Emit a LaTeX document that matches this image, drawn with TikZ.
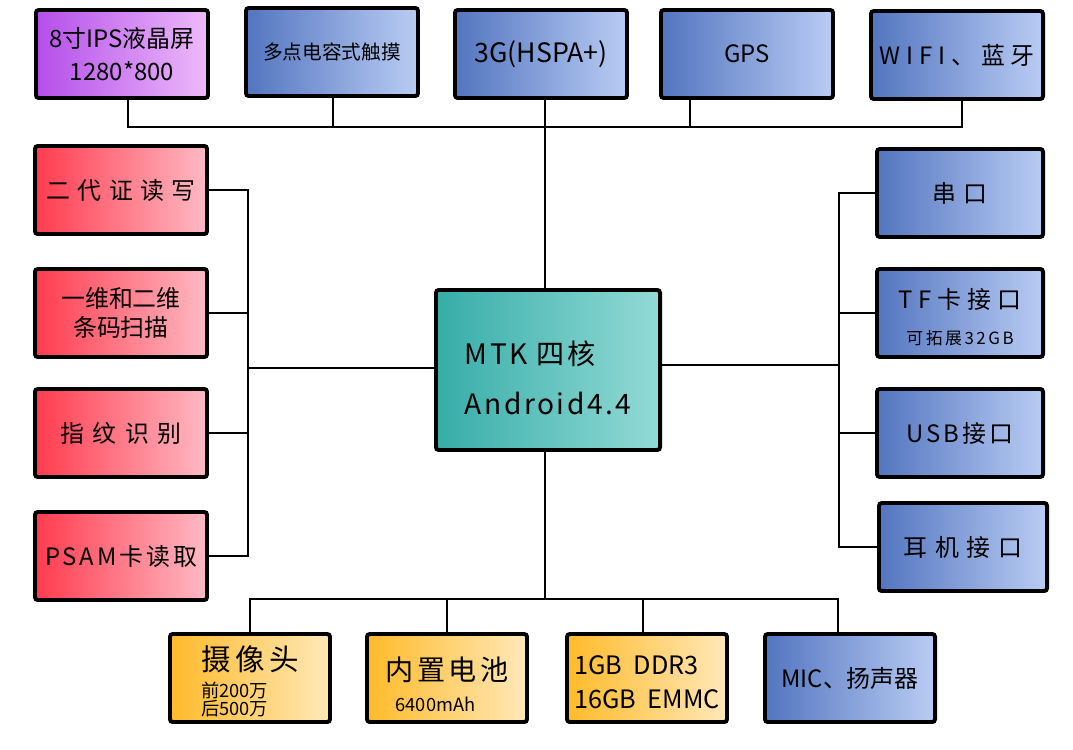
\documentclass[tikz,border=0pt]{standalone}
\usepackage{fontspec}
\setmainfont{Noto Sans CJK SC}
\usepackage{tikz}
\usetikzlibrary{positioning}

\definecolor{purpleA}{HTML}{B44EEA}
\definecolor{purpleB}{HTML}{EDBAFA}
\definecolor{blueA}{HTML}{5375C0}
\definecolor{blueB}{HTML}{B9CCF3}
\definecolor{redA}{HTML}{FF3B4E}
\definecolor{redB}{HTML}{FFBAC4}
\definecolor{orangeA}{HTML}{FFBA2A}
\definecolor{orangeB}{HTML}{FFE8B8}
\definecolor{tealA}{HTML}{36ADA8}
\definecolor{tealB}{HTML}{93DAD6}

\newcommand{\fsz}[2]{\fontsize{#1}{#2}\selectfont}
\newcommand{\track}[1]{\addfontfeatures{LetterSpace=#1}}

\begin{document}
\begin{tikzpicture}[
		x=0.025cm, y=-0.025cm,
		box/.style={draw, line width=2.8pt, rounded corners=2pt, minimum width=4.3cm, minimum height=2.2cm, align=center, inner sep=1pt, font={\fsz{17}{20}}},
		lcdbox/.style={box, left color=purpleA, right color=purpleB},
		bluebox/.style={box, left color=blueA, right color=blueB},
		redbox/.style={box, left color=redA, right color=redB},
		orangebox/.style={box, left color=orangeA, right color=orangeB, minimum width=4cm},
		cpubox/.style={box, left color=tealA, right color=tealB, minimum width=5.6cm, minimum height=4cm},
		wire/.style={line width=2pt}
	]
	\useasboundingbox (0,0) rectangle (1073,750);

	% Nodes
	\node[cpubox, align=left, font={\fsz{20}{36}\track{9}}] (cpu) at (548,370) {\rule{0pt}{28pt}MTK 四核\\Android4.4};

	\node[lcdbox, font={\fsz{17}{24}}] (lcd) at (122,54) {8寸IPS液晶屏\\1280*800};
	\node[bluebox, font={\fsz{14}{17}}] (touch) at (332,52) {多点电容式触摸};
	\node[bluebox, font={\fsz{19}{23}}] (hspa) at (541,54) {3G(HSPA+)};
	\node[bluebox] (gps) at (747,54) {GPS};
	\node[bluebox, font={\fsz{17}{20}\track{25}}] (wifi) at (957,55) {WIFI、蓝牙};

	\node[redbox, font={\fsz{17}{20}\track{30}}] (idcard) at (121,190) {二代证读写};
	\node[redbox, font={\fsz{17}{21}}] (barcode) at (121,313) {一维和二维\\条码扫描};
	\node[redbox, font={\fsz{17}{20}\track{35}}] (finger) at (121,433) {指纹识别};
	\node[redbox, font={\fsz{17}{20}\track{12}}] (psam) at (121,556) {PSAM卡读取};

	\node[bluebox, minimum width=4.15cm, font={\fsz{17}{20}\track{30}}] (serial) at (960,193) {串口};
	\node[bluebox, minimum width=4.15cm, font={\fsz{17}{26}\track{25}}] (tfcard) at (960,313) {\rule{0pt}{20pt}TF卡接口\\{\fsz{12}{26}\track{15}可拓展32GB}};
	\node[bluebox, minimum width=4.15cm, font={\fsz{17}{20}\track{12}}] (usb) at (960,433) {USB接口};
	\node[bluebox, minimum width=4.2cm, font={\fsz{17}{20}\track{33}}] (earphone) at (963,547) {耳机接口};

	\node[orangebox, align=left, font={\fsz{13}{12.5}}] (camera) at (250,678) {{\fsz{21}{12.5}\track{15}\rule{0pt}{22pt}摄像头}\\[6pt]前200万\\后500万};
	\node[orangebox, align=left, font={\fsz{13}{22}}] (battery) at (447,678) {{\fsz{20}{22}\track{12}\rule{0pt}{26pt}内置电池}\\\hspace{0.25cm}6400mAh};
	\node[orangebox, align=left, font={\fsz{18}{24}}] (memory) at (647,678) {\rule{0pt}{19pt}1GB\ \ DDR3\\16GB\ \ EMMC};
	\node[bluebox, minimum width=4.25cm] (mic) at (850,678) {MIC、扬声器};

	% Connectors
	\coordinate (topbus) at (545,127);
	\coordinate (leftbus) at (248,368);
	\coordinate (rightbus) at (839,365);
	\coordinate (botbus) at (545,599);

	\draw[wire] (lcd.south -| 128,0) |- (topbus);
	\draw[wire] (touch.south -| 333,0) |- (topbus);
	\draw[wire] (hspa.south -| topbus) -- (topbus);
	\draw[wire] (gps.south -| 690,0) |- (topbus);
	\draw[wire] (wifi.south -| 962,0) |- (topbus);
	\draw[wire] (topbus) -- (cpu.north -| topbus);

	\draw[wire] (idcard.east) -| (leftbus);
	\draw[wire] (barcode.east) -| (leftbus);
	\draw[wire] (finger.east) -| (leftbus);
	\draw[wire] (psam.east) -| (leftbus);
	\draw[wire] (leftbus) -- (cpu.west |- leftbus);

	\draw[wire] (serial.west) -| (rightbus);
	\draw[wire] (tfcard.west) -| (rightbus);
	\draw[wire] (usb.west) -| (rightbus);
	\draw[wire] (earphone.west) -| (rightbus);
	\draw[wire] (cpu.east |- rightbus) -- (rightbus);

	\draw[wire] (camera.north) |- (botbus);
	\draw[wire] (battery.north) |- (botbus);
	\draw[wire] (memory.north -| 643,0) |- (botbus);
	\draw[wire] (mic.north -| 838,0) |- (botbus);
	\draw[wire] (cpu.south -| botbus) -- (botbus);
\end{tikzpicture}
\end{document}
